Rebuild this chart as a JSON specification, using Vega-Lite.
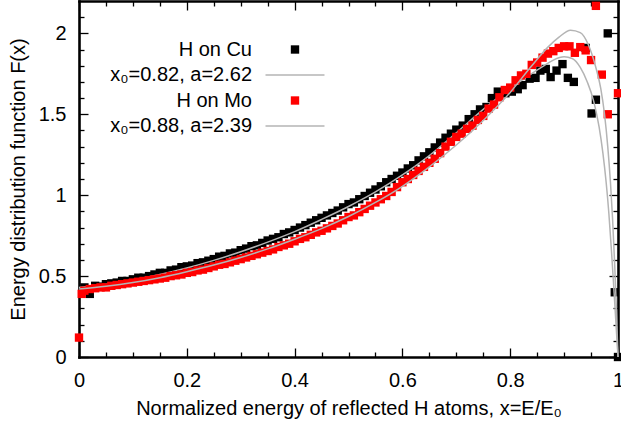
{
  "$schema": "https://vega.github.io/schema/vega-lite/v6.json",
  "width": 539,
  "height": 356,
  "autosize": {"type": "none"},
  "padding": {"left": 79, "top": 1, "right": 3, "bottom": 73},
  "background": "white",
  "config": {
    "view": {"stroke": null},
    "axis": {
      "domainColor": "black", "tickColor": "black", "labelColor": "black", "titleColor": "black",
      "labelFont": "Liberation Sans", "titleFont": "Liberation Sans",
      "labelFontSize": 20, "titleFontSize": 20, "titleFontWeight": "normal",
      "grid": false, "domainWidth": 2.6, "domainCap": "square", "tickWidth": 1.3,
      "labelFlush": false, "labelOverlap": false
    }
  },
  "datasets": {
    "cu": [
      {"x":0.01,"y":0.43},{"x":0.02,"y":0.39},{"x":0.03,"y":0.44},{"x":0.04,"y":0.435},{"x":0.05,"y":0.45},
      {"x":0.06,"y":0.455},{"x":0.07,"y":0.46},{"x":0.08,"y":0.47},{"x":0.09,"y":0.47},{"x":0.10,"y":0.48},
      {"x":0.11,"y":0.49},{"x":0.12,"y":0.49},{"x":0.13,"y":0.50},{"x":0.14,"y":0.51},{"x":0.15,"y":0.52},
      {"x":0.16,"y":0.52},{"x":0.17,"y":0.535},{"x":0.18,"y":0.54},{"x":0.19,"y":0.555},{"x":0.20,"y":0.56},
      {"x":0.21,"y":0.565},{"x":0.22,"y":0.58},{"x":0.23,"y":0.585},{"x":0.24,"y":0.595},{"x":0.25,"y":0.605},
      {"x":0.26,"y":0.62},{"x":0.27,"y":0.625},{"x":0.28,"y":0.64},{"x":0.29,"y":0.645},{"x":0.30,"y":0.66},
      {"x":0.31,"y":0.67},{"x":0.32,"y":0.685},{"x":0.33,"y":0.69},{"x":0.34,"y":0.705},{"x":0.35,"y":0.72},
      {"x":0.36,"y":0.73},{"x":0.37,"y":0.74},{"x":0.38,"y":0.76},{"x":0.39,"y":0.77},{"x":0.40,"y":0.785},
      {"x":0.41,"y":0.80},{"x":0.42,"y":0.815},{"x":0.43,"y":0.83},{"x":0.44,"y":0.845},{"x":0.45,"y":0.86},
      {"x":0.46,"y":0.875},{"x":0.47,"y":0.89},{"x":0.48,"y":0.905},{"x":0.49,"y":0.925},{"x":0.50,"y":0.945},
      {"x":0.51,"y":0.955},{"x":0.52,"y":0.975},{"x":0.53,"y":0.995},{"x":0.54,"y":1.015},{"x":0.55,"y":1.035},
      {"x":0.56,"y":1.055},{"x":0.57,"y":1.08},{"x":0.58,"y":1.10},{"x":0.59,"y":1.12},{"x":0.60,"y":1.14},
      {"x":0.61,"y":1.165},{"x":0.62,"y":1.185},{"x":0.63,"y":1.215},{"x":0.64,"y":1.24},{"x":0.65,"y":1.265},
      {"x":0.66,"y":1.295},{"x":0.67,"y":1.325},{"x":0.68,"y":1.355},{"x":0.69,"y":1.38},{"x":0.70,"y":1.405},
      {"x":0.712,"y":1.43},{"x":0.723,"y":1.47},{"x":0.734,"y":1.50},{"x":0.744,"y":1.53},{"x":0.756,"y":1.545},
      {"x":0.766,"y":1.60},{"x":0.777,"y":1.64},{"x":0.791,"y":1.63},{"x":0.803,"y":1.64},{"x":0.814,"y":1.655},
      {"x":0.823,"y":1.68},{"x":0.836,"y":1.72},{"x":0.847,"y":1.725},{"x":0.856,"y":1.77},{"x":0.866,"y":1.78},
      {"x":0.875,"y":1.73},{"x":0.886,"y":1.77},{"x":0.897,"y":1.81},{"x":0.907,"y":1.725},{"x":0.918,"y":1.70},
      {"x":0.94,"y":1.91},{"x":0.951,"y":1.505},{"x":0.959,"y":1.59},{"x":0.981,"y":2.00},{"x":0.994,"y":0.40},
      {"x":1.0,"y":0.0}
    ],
    "mo": [
      {"x":0.0,"y":0.12},{"x":0.005,"y":0.39},{"x":0.01,"y":0.41},{"x":0.02,"y":0.42},{"x":0.03,"y":0.425},
      {"x":0.04,"y":0.43},{"x":0.05,"y":0.43},{"x":0.06,"y":0.44},{"x":0.07,"y":0.445},{"x":0.08,"y":0.45},
      {"x":0.09,"y":0.455},{"x":0.10,"y":0.46},{"x":0.11,"y":0.465},{"x":0.12,"y":0.47},{"x":0.13,"y":0.475},
      {"x":0.14,"y":0.48},{"x":0.15,"y":0.485},{"x":0.16,"y":0.49},{"x":0.17,"y":0.50},{"x":0.18,"y":0.505},
      {"x":0.19,"y":0.51},{"x":0.20,"y":0.52},{"x":0.21,"y":0.525},{"x":0.22,"y":0.535},{"x":0.23,"y":0.54},
      {"x":0.24,"y":0.55},{"x":0.25,"y":0.56},{"x":0.26,"y":0.57},{"x":0.27,"y":0.575},{"x":0.28,"y":0.585},
      {"x":0.29,"y":0.595},{"x":0.30,"y":0.605},{"x":0.31,"y":0.615},{"x":0.32,"y":0.625},{"x":0.33,"y":0.635},
      {"x":0.34,"y":0.645},{"x":0.35,"y":0.655},{"x":0.36,"y":0.665},{"x":0.37,"y":0.68},{"x":0.38,"y":0.69},
      {"x":0.39,"y":0.70},{"x":0.40,"y":0.715},{"x":0.41,"y":0.73},{"x":0.42,"y":0.74},{"x":0.43,"y":0.755},
      {"x":0.44,"y":0.77},{"x":0.45,"y":0.78},{"x":0.46,"y":0.795},{"x":0.47,"y":0.81},{"x":0.48,"y":0.825},
      {"x":0.49,"y":0.845},{"x":0.50,"y":0.865},{"x":0.51,"y":0.875},{"x":0.52,"y":0.895},{"x":0.53,"y":0.915},
      {"x":0.54,"y":0.935},{"x":0.55,"y":0.955},{"x":0.56,"y":0.975},{"x":0.57,"y":0.995},{"x":0.58,"y":1.02},
      {"x":0.59,"y":1.05},{"x":0.60,"y":1.08},{"x":0.61,"y":1.10},{"x":0.62,"y":1.125},{"x":0.63,"y":1.15},
      {"x":0.64,"y":1.175},{"x":0.65,"y":1.20},{"x":0.66,"y":1.225},{"x":0.67,"y":1.26},{"x":0.68,"y":1.30},
      {"x":0.69,"y":1.33},{"x":0.70,"y":1.36},{"x":0.71,"y":1.38},{"x":0.72,"y":1.41},{"x":0.73,"y":1.43},
      {"x":0.74,"y":1.465},{"x":0.75,"y":1.49},{"x":0.76,"y":1.535},{"x":0.77,"y":1.56},{"x":0.78,"y":1.605},
      {"x":0.79,"y":1.65},{"x":0.80,"y":1.665},{"x":0.81,"y":1.71},{"x":0.82,"y":1.74},{"x":0.83,"y":1.75},
      {"x":0.84,"y":1.805},{"x":0.85,"y":1.82},{"x":0.86,"y":1.85},{"x":0.87,"y":1.875},{"x":0.88,"y":1.89},
      {"x":0.89,"y":1.91},{"x":0.90,"y":1.92},{"x":0.91,"y":1.92},{"x":0.92,"y":1.88},{"x":0.93,"y":1.915},
      {"x":0.94,"y":1.895},{"x":0.95,"y":1.835},{"x":0.959,"y":2.17},{"x":0.97,"y":1.745},{"x":0.981,"y":1.50},
      {"x":1.0,"y":1.63}
    ],
    "cufit": [
      {"x":0.0,"y":0.43},{"x":0.05,"y":0.45},{"x":0.1,"y":0.477},{"x":0.15,"y":0.51},{"x":0.2,"y":0.55},
      {"x":0.25,"y":0.597},{"x":0.3,"y":0.65},{"x":0.35,"y":0.71},{"x":0.4,"y":0.775},{"x":0.45,"y":0.85},
      {"x":0.5,"y":0.93},{"x":0.55,"y":1.02},{"x":0.6,"y":1.125},{"x":0.65,"y":1.245},{"x":0.7,"y":1.385},
      {"x":0.75,"y":1.53},{"x":0.8,"y":1.66},{"x":0.83,"y":1.73},{"x":0.86,"y":1.795},{"x":0.88,"y":1.835},
      {"x":0.9,"y":1.855},{"x":0.915,"y":1.845},{"x":0.93,"y":1.79},{"x":0.943,"y":1.7},{"x":0.955,"y":1.58},
      {"x":0.965,"y":1.42},{"x":0.972,"y":1.26},{"x":0.978,"y":1.08},{"x":0.983,"y":0.89},{"x":0.988,"y":0.65},
      {"x":0.992,"y":0.44},{"x":0.996,"y":0.22},{"x":1.0,"y":0.0}
    ],
    "mofit": [
      {"x":0.0,"y":0.42},{"x":0.05,"y":0.437},{"x":0.1,"y":0.46},{"x":0.15,"y":0.49},{"x":0.2,"y":0.527},
      {"x":0.25,"y":0.568},{"x":0.3,"y":0.615},{"x":0.35,"y":0.668},{"x":0.4,"y":0.728},{"x":0.45,"y":0.793},
      {"x":0.5,"y":0.868},{"x":0.55,"y":0.955},{"x":0.6,"y":1.055},{"x":0.65,"y":1.175},{"x":0.7,"y":1.31},
      {"x":0.75,"y":1.462},{"x":0.8,"y":1.635},{"x":0.84,"y":1.8},{"x":0.87,"y":1.915},{"x":0.89,"y":1.975},
      {"x":0.912,"y":2.02},{"x":0.93,"y":2.005},{"x":0.945,"y":1.93},{"x":0.958,"y":1.8},{"x":0.968,"y":1.66},
      {"x":0.975,"y":1.5},{"x":0.981,"y":1.3},{"x":0.986,"y":1.08},{"x":0.99,"y":0.85},{"x":0.994,"y":0.56},
      {"x":0.997,"y":0.3},{"x":1.0,"y":0.0}
    ]
  },
  "resolve": {"axis": {"x": "independent", "y": "independent"}},
  "layer": [
    {
      "data": {"name": "cu"},
      "transform": [{"calculate": "'H on Cu'", "as": "series"}],
      "mark": {"type": "point", "filled": true, "size": 70, "opacity": 1},
      "encoding": {
        "x": {"field": "x", "type": "quantitative",
              "scale": {"domain": [0, 1], "nice": false, "zero": false},
              "axis": {"orient": "bottom", "values": [0, 0.2, 0.4, 0.6, 0.8, 1], "format": "~g",
                       "tickSize": -9, "labelPadding": 22,
                       "title": "Normalized energy of reflected H atoms, x=E/E₀", "titlePadding": 8}},
        "y": {"field": "y", "type": "quantitative",
              "scale": {"domain": [0, 2.2], "nice": false, "zero": false},
              "axis": {"orient": "left", "values": [0, 0.5, 1, 1.5, 2], "format": "~g",
                       "tickSize": -9, "labelPadding": 22,
                       "title": "Energy distribution function F(x)", "titlePadding": 10}},
        "color": {"field": "series", "type": "nominal",
                  "scale": {"domain": ["H on Cu", "x₀=0.82, a=2.62", "H on Mo", "x₀=0.88, a=2.39"],
                            "range": ["#000000", "#b4b4b4", "#ff0000", "#b4b4b4"]},
                  "legend": {"orient": "none", "legendX": 206, "legendY": 38.5, "title": null,
                             "symbolSize": 70, "labelAlign": "right", "labelOffset": -53,
                             "labelFont": "Liberation Sans", "labelFontSize": 20, "labelColor": "black",
                             "labelLimit": 400, "rowPadding": 5.5, "padding": 0, "symbolOffset": 0,
                             "symbolStrokeWidth": 0, "symbolOpacity": 1}},
        "shape": {"field": "series", "type": "nominal",
                  "scale": {"domain": ["H on Cu", "x₀=0.82, a=2.62", "H on Mo", "x₀=0.88, a=2.39"],
                            "range": ["M-1,-1H1V1H-1Z", "M-7.05,-0.18H7.05V0.18H-7.05Z", "M-1,-1H1V1H-1Z", "M-7.05,-0.18H7.05V0.18H-7.05Z"]},
                  "legend": {"orient": "none", "legendX": 206, "legendY": 38.5, "title": null,
                             "symbolSize": 70, "labelAlign": "right", "labelOffset": -53,
                             "labelFont": "Liberation Sans", "labelFontSize": 20, "labelColor": "black",
                             "labelLimit": 400, "rowPadding": 5.5, "padding": 0, "symbolOffset": 0,
                             "symbolStrokeWidth": 0, "symbolOpacity": 1}}
      }
    },
    {
      "data": {"name": "cufit"},
      "transform": [{"calculate": "'x₀=0.82, a=2.62'", "as": "series"}],
      "mark": {"type": "line", "strokeWidth": 1.5, "interpolate": "monotone"},
      "encoding": {
        "x": {"field": "x", "type": "quantitative",
              "axis": {"orient": "top", "values": [0, 0.2, 0.4, 0.6, 0.8, 1], "tickSize": -9,
                       "labels": false, "title": null}},
        "y": {"field": "y", "type": "quantitative",
              "axis": {"orient": "right", "values": [0, 0.5, 1, 1.5, 2], "tickSize": -9,
                       "labels": false, "title": null}},
        "color": {"field": "series", "type": "nominal"}
      }
    },
    {
      "data": {"name": "mo"},
      "transform": [{"calculate": "'H on Mo'", "as": "series"}],
      "mark": {"type": "point", "filled": true, "size": 70, "opacity": 1},
      "encoding": {
        "x": {"field": "x", "type": "quantitative",
              "axis": {"orient": "bottom", "values": [0.05, 0.1, 0.15, 0.25, 0.3, 0.35, 0.45, 0.5, 0.55, 0.65, 0.7, 0.75, 0.85, 0.9, 0.95],
                       "tickSize": -5, "labels": false, "domain": false, "title": null}},
        "y": {"field": "y", "type": "quantitative",
              "axis": {"orient": "left", "values": [0.1, 0.2, 0.3, 0.4, 0.6, 0.7, 0.8, 0.9, 1.1, 1.2, 1.3, 1.4, 1.6, 1.7, 1.8, 1.9, 2.1],
                       "tickSize": -5, "labels": false, "domain": false, "title": null}},
        "color": {"field": "series", "type": "nominal"},
        "shape": {"field": "series", "type": "nominal"}
      }
    },
    {
      "data": {"name": "mofit"},
      "transform": [{"calculate": "'x₀=0.88, a=2.39'", "as": "series"}],
      "mark": {"type": "line", "strokeWidth": 1.5, "interpolate": "monotone"},
      "encoding": {
        "x": {"field": "x", "type": "quantitative",
              "axis": {"orient": "top", "values": [0.05, 0.1, 0.15, 0.25, 0.3, 0.35, 0.45, 0.5, 0.55, 0.65, 0.7, 0.75, 0.85, 0.9, 0.95],
                       "tickSize": -5, "labels": false, "domain": false, "title": null}},
        "y": {"field": "y", "type": "quantitative",
              "axis": {"orient": "right", "values": [0.1, 0.2, 0.3, 0.4, 0.6, 0.7, 0.8, 0.9, 1.1, 1.2, 1.3, 1.4, 1.6, 1.7, 1.8, 1.9, 2.1],
                       "tickSize": -5, "labels": false, "domain": false, "title": null}},
        "color": {"field": "series", "type": "nominal"}
      }
    }
  ]
}
